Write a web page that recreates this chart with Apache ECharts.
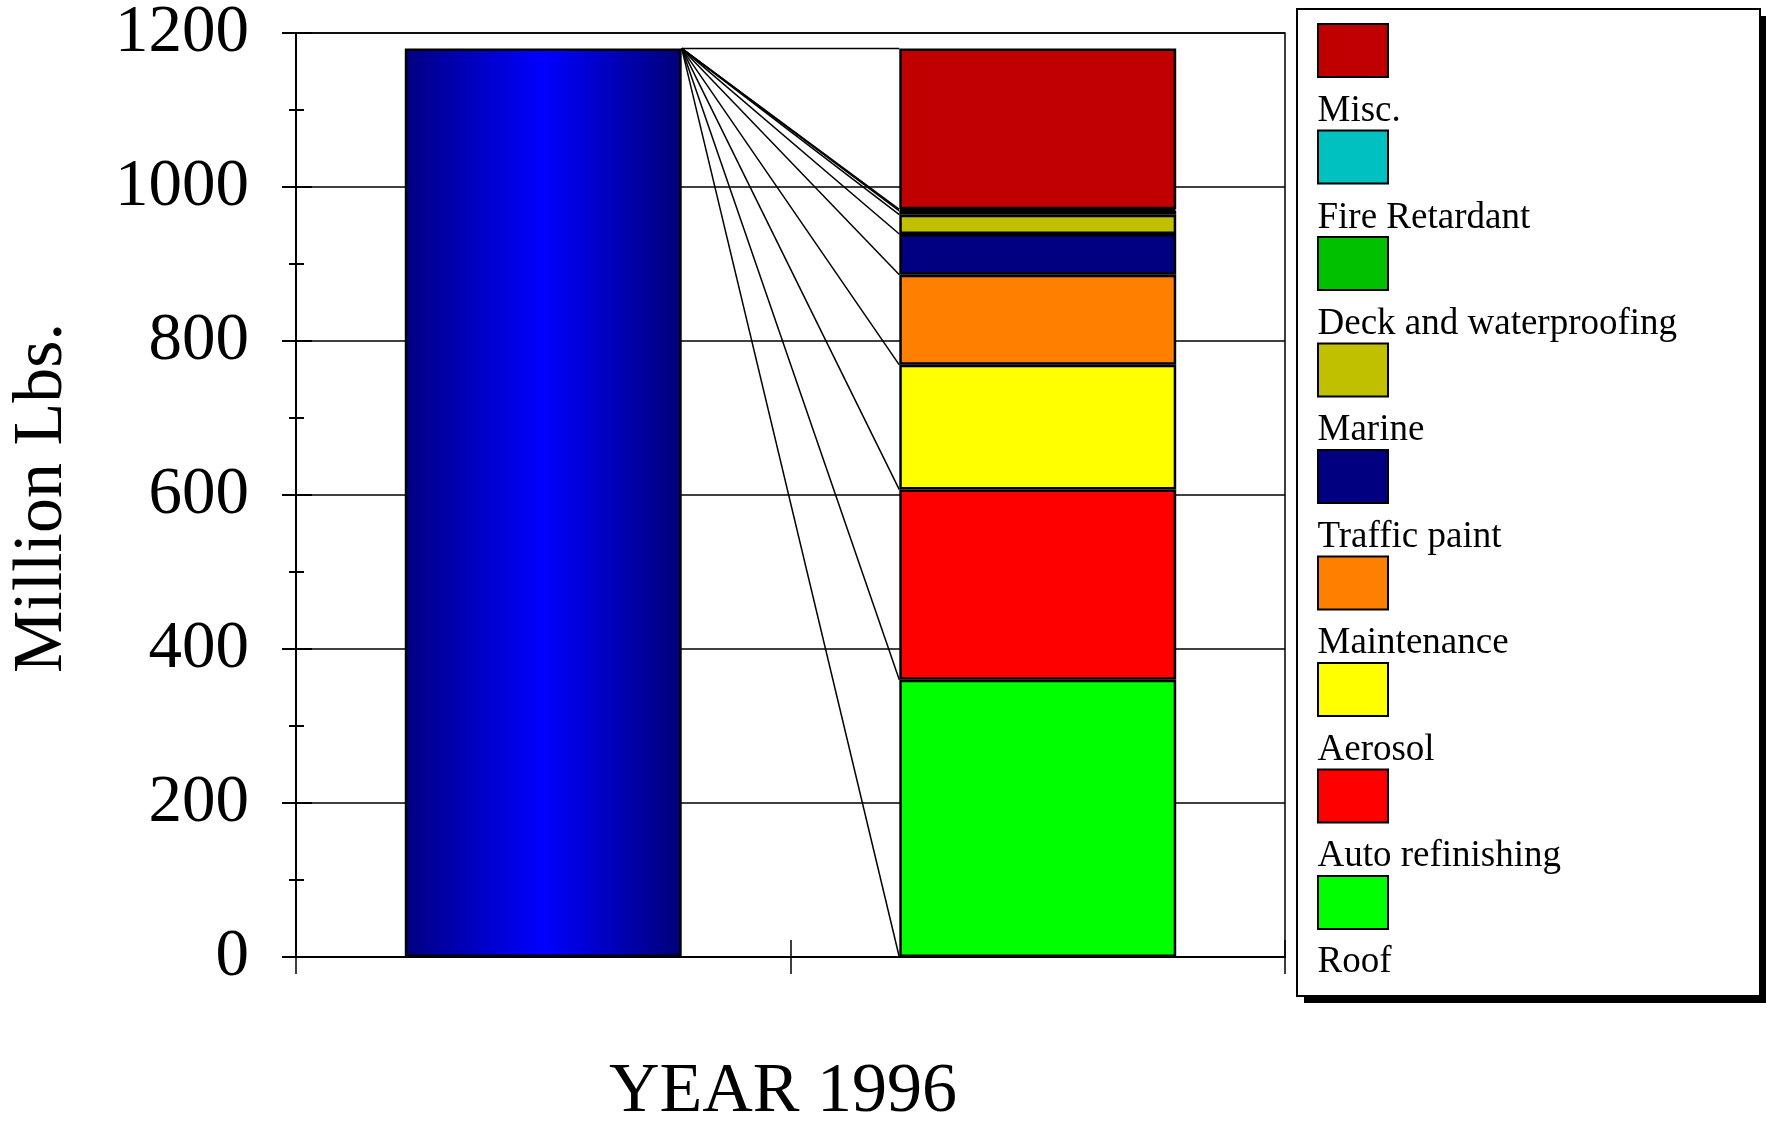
<!DOCTYPE html>
<html>
<head>
<meta charset="utf-8">
<title>YEAR 1996</title>
<script src="https://cdn.jsdelivr.net/npm/echarts@6/dist/echarts.min.js"></script>
<style>
  html, body { margin: 0; padding: 0; background: #fff; }
  #chart { width: 1766px; height: 1121px; }
</style>
</head>
<body>
<div id="chart"></div>
<script>
// data (million lbs, 1996)
var categories = ['Total', 'Breakdown'];
var total = 1180;
// stacked segments, bottom to top
var segNames = ['Roof', 'Auto refinishing', 'Aerosol', 'Maintenance', 'Traffic paint',
  'Marine', 'Deck and waterproofing', 'Fire Retardant', 'Misc.'];
var segValues = [360, 247, 162, 117, 53, 25, 5, 2, 209];
var segColors = ['#00ff00', '#ff0000', '#ffff00', '#ff8000', '#000080',
  '#c0c000', '#00c000', '#00c0c0', '#c00000'];
var yTicks = { min: 0, max: 1200, interval: 200 };

var FONT = 'Liberation Serif';
var BAR_W = 0.56;

// legend lists top to bottom
var legendNames = segNames.slice().reverse();

// boundaries of the stacked segments, for the connector lines
var bounds = [0];
segValues.forEach(function (v, i) { bounds.push(bounds[i] + v); });

var chart = echarts.init(document.getElementById('chart'));

var series = [{
  name: 'Total',
  type: 'bar',
  stack: 'a',
  barWidth: (BAR_W * 100) + '%',
  data: [total, '-'],
  itemStyle: {
    color: new echarts.graphic.LinearGradient(0, 0, 1, 0, [
      { offset: 0, color: '#000080' },
      { offset: 0.5, color: '#0000ff' },
      { offset: 1, color: '#000078' }
    ]),
    borderColor: '#000',
    borderWidth: 2.5
  }
}];

segNames.forEach(function (n, i) {
  series.push({
    name: n,
    type: 'bar',
    stack: 'a',
    barWidth: (BAR_W * 100) + '%',
    data: ['-', segValues[i]],
    itemStyle: { color: segColors[i], borderColor: '#000', borderWidth: 2.5 }
  });
});

// lines from the top right corner of the total bar to every boundary
series.push({
  type: 'custom',
  silent: true,
  z: 3,
  data: bounds.map(function (b) { return [1, b]; }),
  encode: { x: 0, y: 1 },
  renderItem: function (params, api) {
    var bw = api.size([1, 0])[0] * BAR_W;
    var p0 = api.coord([0, total]);
    var p1 = api.coord([1, api.value(1)]);
    return {
      type: 'line',
      shape: { x1: p0[0] + bw / 2, y1: p0[1], x2: p1[0] - bw / 2, y2: p1[1] },
      style: { stroke: '#000', lineWidth: 1.5 }
    };
  }
});

var option = {
  animation: false,
  backgroundColor: '#fff',
  grid: {
    left: 296, top: 33, right: 481, bottom: 164,
    containLabel: false, outerBoundsMode: 'none',
    show: true, borderColor: '#000', borderWidth: 1.5
  },
  graphic: [{
    // legend frame shadow
    type: 'rect',
    z: 0,
    shape: { x: 1304, y: 16, width: 463, height: 987 },
    style: { fill: '#000' }
  }, {
    type: 'rect',
    z: 1,
    shape: { x: 1297, y: 9, width: 463, height: 987 },
    style: { fill: '#fff', stroke: '#000', lineWidth: 2 }
  }],
  legend: [{
    // swatches
    orient: 'vertical', left: 1317, top: 23, padding: 0,
    itemWidth: 70, itemHeight: 53, itemGap: 51.5,
    icon: 'rect', selectedMode: false,
    itemStyle: { borderColor: '#000', borderWidth: 2 },
    formatter: function () { return ''; },
    textStyle: { fontSize: 1 },
    data: legendNames
  }, {
    // labels, set under each swatch
    orient: 'vertical', left: 1311.5, top: 89.5, padding: 0,
    itemWidth: 1, itemHeight: 1, itemGap: 62.4,
    icon: 'rect', selectedMode: false,
    itemStyle: { opacity: 0, borderWidth: 0 },
    textStyle: { fontFamily: FONT, fontSize: 37, lineHeight: 44, color: '#000' },
    data: legendNames
  }],
  xAxis: [{
    type: 'category',
    data: categories,
    position: 'bottom',
    name: 'YEAR 1996',
    nameLocation: 'middle',
    nameGap: 101,
    nameTextStyle: { fontFamily: FONT, fontSize: 70, color: '#000', padding: [0, 15, 0, 0] },
    axisLine: { show: true, lineStyle: { color: '#000', width: 2 } },
    axisTick: { show: true, interval: 0, length: 17, lineStyle: { color: '#000', width: 1.5 } },
    axisLabel: { show: false },
    splitLine: { show: false }
  }, {
    type: 'category',
    data: categories,
    position: 'bottom',
    axisLine: { show: true, lineStyle: { color: '#000', width: 2 } },
    axisTick: { show: true, interval: 0, inside: true, length: 17, lineStyle: { color: '#000', width: 1.5 } },
    axisLabel: { show: false },
    splitLine: { show: false }
  }],
  yAxis: [{
    type: 'value',
    position: 'left',
    min: yTicks.min, max: yTicks.max, interval: yTicks.interval,
    name: 'Million Lbs.',
    nameLocation: 'middle',
    nameGap: 218,
    nameTextStyle: { fontFamily: FONT, fontSize: 70, color: '#000', padding: [0, 6, 0, 0] },
    axisLine: { show: true, lineStyle: { color: '#000', width: 2 } },
    axisTick: { show: true, length: 14, lineStyle: { color: '#000', width: 2 } },
    minorTick: { show: true, splitNumber: 2, length: 7, lineStyle: { color: '#000', width: 2 } },
    axisLabel: {
      fontFamily: FONT, fontSize: 67, color: '#000', margin: 47,
      formatter: function (v) { return String(v); }
    },
    splitLine: { show: true, lineStyle: { color: '#000', width: 1.5 } }
  }, {
    type: 'value',
    position: 'left',
    min: yTicks.min, max: yTicks.max, interval: yTicks.interval,
    axisLine: { show: true, lineStyle: { color: '#000', width: 2 } },
    axisTick: { show: true, inside: true, length: 16, lineStyle: { color: '#000', width: 2 } },
    minorTick: { show: true, splitNumber: 2, length: 8, lineStyle: { color: '#000', width: 2 } },
    axisLabel: { show: false },
    splitLine: { show: false }
  }],
  series: series
};

chart.setOption(option);
</script>
</body>
</html>
